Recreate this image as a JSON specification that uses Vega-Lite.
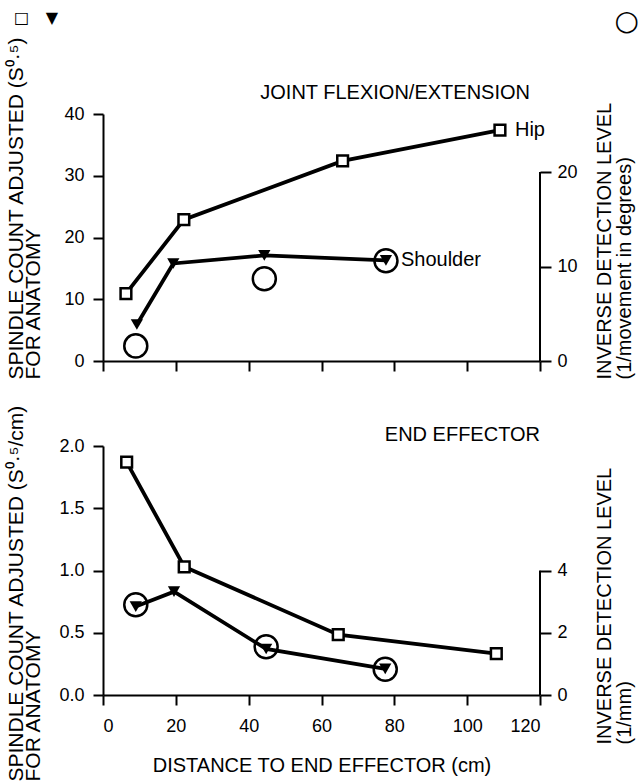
{
  "$schema": "https://vega.github.io/schema/vega-lite/v6.json",
  "padding": {"left": 5, "top": 8, "right": 6, "bottom": 6},
  "config": {
    "font": "Liberation Sans",
    "view": {"stroke": null},
    "axis": {
      "grid": false,
      "domainColor": "black",
      "domainWidth": 2,
      "tickColor": "black",
      "tickWidth": 2,
      "tickSize": 10,
      "labelFontSize": 18,
      "labelColor": "black",
      "titleColor": "black",
      "titleFontSize": 20,
      "titleFontWeight": "normal",
      "titleLineHeight": 18
    },
    "title": {"fontSize": 20, "fontWeight": "normal", "color": "black"}
  },
  "datasets": {
    "spindle": [
      {"panel": "top", "series": "Hip", "x": 6.3, "y": 10.9, "label": null},
      {"panel": "top", "series": "Hip", "x": 22.2, "y": 22.9, "label": null},
      {"panel": "top", "series": "Hip", "x": 65.8, "y": 32.4, "label": null},
      {"panel": "top", "series": "Hip", "x": 109, "y": 37.4, "label": "Hip"},
      {"panel": "top", "series": "Shoulder", "x": 9.3, "y": 5.9, "label": null},
      {"panel": "top", "series": "Shoulder", "x": 19.3, "y": 15.8, "label": null},
      {"panel": "top", "series": "Shoulder", "x": 44.3, "y": 17.1, "label": null},
      {"panel": "top", "series": "Shoulder", "x": 77.7, "y": 16.3, "label": "Shoulder"},
      {"panel": "bottom", "series": "Hip", "x": 6.5, "y": 1.87, "label": null},
      {"panel": "bottom", "series": "Hip", "x": 22.3, "y": 1.03, "label": null},
      {"panel": "bottom", "series": "Hip", "x": 64.6, "y": 0.485, "label": null},
      {"panel": "bottom", "series": "Hip", "x": 108, "y": 0.333, "label": null},
      {"panel": "bottom", "series": "Shoulder", "x": 9.0, "y": 0.71, "label": null},
      {"panel": "bottom", "series": "Shoulder", "x": 19.5, "y": 0.83, "label": null},
      {"panel": "bottom", "series": "Shoulder", "x": 44.8, "y": 0.37, "label": null},
      {"panel": "bottom", "series": "Shoulder", "x": 77.5, "y": 0.21, "label": null}
    ],
    "detect": [
      {"panel": "top", "x": 9.0, "v": 1.6},
      {"panel": "top", "x": 44.3, "v": 8.7},
      {"panel": "top", "x": 77.7, "v": 10.6},
      {"panel": "bottom", "x": 9.0, "v": 2.9},
      {"panel": "bottom", "x": 44.8, "v": 1.55},
      {"panel": "bottom", "x": 77.5, "v": 0.83}
    ],
    "rightaxis": [
      {"panel": "top", "x": 120, "v": 0, "hi": 20},
      {"panel": "bottom", "x": 120, "v": 0, "hi": 4}
    ]
  },
  "title": {"text": "□\u00a0\u00a0\u00a0▼", "anchor": "start", "font": "DejaVu Sans", "fontSize": 16, "fontWeight": "bold", "frame": "bounds", "offset": 0, "dx": 9, "dy": 18},
  "spacing": 24,
  "vconcat": [
    {
      "title": {"text": "○", "anchor": "end", "font": "DejaVu Sans", "fontSize": 28, "fontWeight": "bold", "frame": "bounds", "dx": 5, "dy": 1, "offset": 0},
      "vconcat": [
        {
          "width": 437,
          "height": 247,
          "title": {"text": "JOINT FLEXION/EXTENSION", "anchor": "end", "frame": "group", "offset": 14, "dx": -10, "dy": 82},
          "layer": [
            {
              "data": {"name": "spindle"},
              "transform": [{"filter": "datum.panel == 'top'"}],
              "encoding": {
                "x": {"field": "x", "type": "quantitative", "scale": {"domain": [0, 120]},
                      "axis": {"values": [0, 20, 40, 60, 80, 100, 120], "labels": false, "title": null}},
                "y": {"field": "y", "type": "quantitative", "scale": {"domain": [0, 40]},
                      "axis": {"values": [0, 10, 20, 30, 40], "labelPadding": 9,
                               "title": ["SPINDLE COUNT ADJUSTED (S⁰·⁵)", "FOR ANATOMY"],
                               "titleAnchor": "start", "titleAlign": "left", "titleBaseline": "bottom", "titleAngle": -90,
                               "titleX": -77, "titleY": 265, "titleFontSize": 21, "titleLineHeight": 17}}
              },
              "layer": [
                {"mark": {"type": "line", "color": "black", "strokeWidth": 3.8}, "encoding": {"detail": {"field": "series"}}},
                {"transform": [{"filter": "datum.series == 'Hip'"}],
                 "mark": {"type": "point", "shape": "square", "filled": true, "fill": "white", "stroke": "black", "strokeWidth": 2.5, "size": 115, "opacity": 1}},
                {"transform": [{"filter": "datum.series == 'Shoulder'"}],
                 "mark": {"type": "point", "shape": "triangle-down", "filled": true, "color": "black", "size": 150, "opacity": 1}},
                {"transform": [{"filter": "datum.label != null"}],
                 "mark": {"type": "text", "align": "left", "baseline": "middle", "dx": 15, "fontSize": 20, "color": "black"},
                 "encoding": {"text": {"field": "label"}}}
              ]
            },
            {
              "encoding": {
                "x": {"field": "x", "type": "quantitative", "scale": {"domain": [0, 120]},
                      "axis": {"values": [0, 20, 40, 60, 80, 100, 120], "labels": false, "title": null}},
                "y": {"field": "v", "type": "quantitative", "scale": {"domain": [0, 26.14]},
                      "axis": {"orient": "right", "values": [0, 10, 20], "domain": false, "tickSize": 11, "labelPadding": 6,
                               "title": ["INVERSE DETECTION LEVEL", "(1/movement in degrees)"],
                               "titleAngle": -90, "titleAnchor": "start", "titleAlign": "left", "titleBaseline": "top",
                               "titleX": 54, "titleY": 265, "titleLineHeight": 20}}
              },
              "layer": [
                {
                  "data": {"name": "detect"},
                  "transform": [{"filter": "datum.panel == 'top'"}],
                  "mark": {"type": "point", "shape": "circle", "filled": false, "color": "black", "strokeWidth": 2.5, "size": 530, "opacity": 1}
                },
                {
                  "data": {"name": "rightaxis"},
                  "transform": [{"filter": "datum.panel == 'top'"}],
                  "mark": {"type": "rule", "color": "black", "strokeWidth": 2},
                  "encoding": {"y2": {"field": "hi"}}
                }
              ]
            }
          ],
          "resolve": {"scale": {"y": "independent"}}
        }
      ]
    },
    {
      "width": 437,
      "height": 249,
      "title": {"text": "END EFFECTOR", "anchor": "end", "frame": "group", "offset": 6, "dy": 47},
      "layer": [
        {
          "data": {"name": "spindle"},
          "transform": [{"filter": "datum.panel == 'bottom'"}],
          "encoding": {
            "x": {"field": "x", "type": "quantitative", "scale": {"domain": [0, 120]},
                  "axis": {"values": [0, 20, 40, 60, 80, 100, 120], "labelPadding": 12,
                           "title": "DISTANCE TO END EFFECTOR (cm)", "titleFontSize": 20, "titlePadding": 20}},
            "y": {"field": "y", "type": "quantitative", "scale": {"domain": [0, 2]},
                  "axis": {"values": [0, 0.5, 1, 1.5, 2], "format": ".1f", "labelPadding": 9,
                           "title": ["SPINDLE COUNT ADJUSTED (S⁰·⁵/cm)", "FOR ANATOMY"],
                           "titleAnchor": "start", "titleAlign": "left", "titleBaseline": "bottom", "titleAngle": -90,
                           "titleX": -77, "titleY": 335, "titleFontSize": 21, "titleLineHeight": 17}}
          },
          "layer": [
            {"mark": {"type": "line", "color": "black", "strokeWidth": 3.8}, "encoding": {"detail": {"field": "series"}}},
            {"transform": [{"filter": "datum.series == 'Hip'"}],
             "mark": {"type": "point", "shape": "square", "filled": true, "fill": "white", "stroke": "black", "strokeWidth": 2.5, "size": 115, "opacity": 1}},
            {"transform": [{"filter": "datum.series == 'Shoulder'"}],
             "mark": {"type": "point", "shape": "triangle-down", "filled": true, "color": "black", "size": 150, "opacity": 1}}
          ]
        },
        {
          "encoding": {
            "x": {"field": "x", "type": "quantitative", "scale": {"domain": [0, 120]},
                  "axis": {"values": [0, 20, 40, 60, 80, 100, 120], "labelPadding": 12,
                           "title": "DISTANCE TO END EFFECTOR (cm)", "titleFontSize": 20, "titlePadding": 20}},
            "y": {"field": "v", "type": "quantitative", "scale": {"domain": [0, 8]},
                  "axis": {"orient": "right", "values": [0, 2, 4], "domain": false, "tickSize": 11, "labelPadding": 6,
                           "title": ["INVERSE DETECTION LEVEL", "(1/mm)"],
                           "titleAngle": -90, "titleAnchor": "start", "titleAlign": "left", "titleBaseline": "top",
                           "titleX": 54, "titleY": 298, "titleLineHeight": 20}}
          },
          "layer": [
            {
              "data": {"name": "detect"},
              "transform": [{"filter": "datum.panel == 'bottom'"}],
              "mark": {"type": "point", "shape": "circle", "filled": false, "color": "black", "strokeWidth": 2.5, "size": 530, "opacity": 1}
            },
            {
              "data": {"name": "rightaxis"},
              "transform": [{"filter": "datum.panel == 'bottom'"}],
              "mark": {"type": "rule", "color": "black", "strokeWidth": 2},
              "encoding": {"y2": {"field": "hi"}}
            }
          ]
        }
      ],
      "resolve": {"scale": {"y": "independent"}}
    }
  ]
}
